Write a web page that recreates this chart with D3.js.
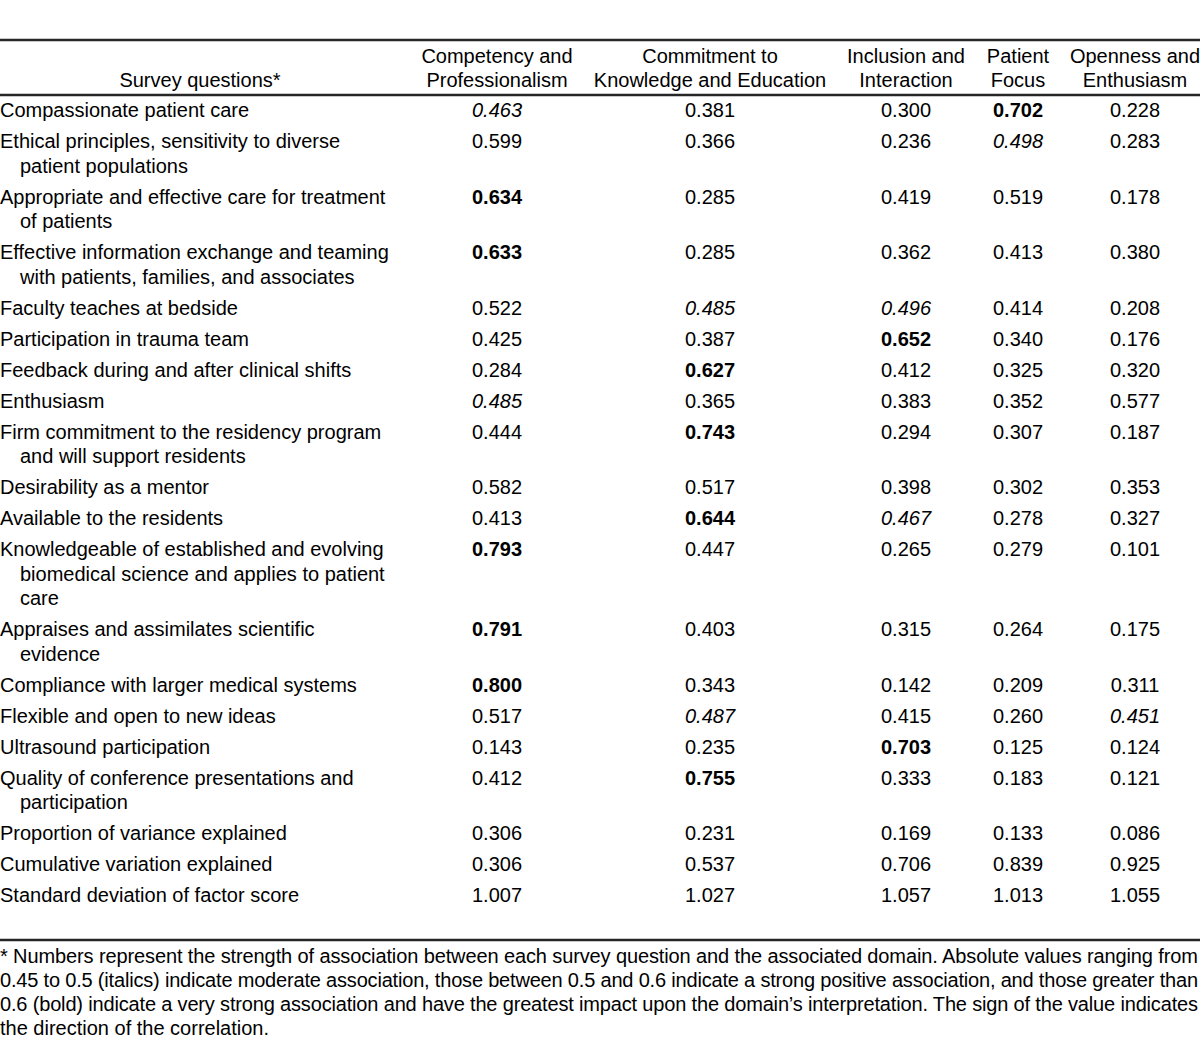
<!DOCTYPE html>
<html>
<head>
<meta charset="utf-8">
<script src="https://cdn.jsdelivr.net/npm/d3@7"></script>
<style>
  body { margin: 0; background: #fff; }
  svg { display: block; font-family: "Liberation Sans", Arial, sans-serif; }
</style>
</head>
<body>
<script>
// Factor loadings table data
var columns = ["Competency and\nProfessionalism", "Commitment to\nKnowledge and Education",
               "Inclusion and\nInteraction", "Patient\nFocus", "Openness and\nEnthusiasm"];

var questions = [
  "Compassionate patient care",
  "Ethical principles, sensitivity to diverse\npatient populations",
  "Appropriate and effective care for treatment\nof patients",
  "Effective information exchange and teaming\nwith patients, families, and associates",
  "Faculty teaches at bedside",
  "Participation in trauma team",
  "Feedback during and after clinical shifts",
  "Enthusiasm",
  "Firm commitment to the residency program\nand will support residents",
  "Desirability as a mentor",
  "Available to the residents",
  "Knowledgeable of established and evolving\nbiomedical science and applies to patient\ncare",
  "Appraises and assimilates scientific\nevidence",
  "Compliance with larger medical systems",
  "Flexible and open to new ideas",
  "Ultrasound participation",
  "Quality of conference presentations and\nparticipation"
];

var loadings = [
  [0.463, 0.381, 0.300, 0.702, 0.228],
  [0.599, 0.366, 0.236, 0.498, 0.283],
  [0.634, 0.285, 0.419, 0.519, 0.178],
  [0.633, 0.285, 0.362, 0.413, 0.380],
  [0.522, 0.485, 0.496, 0.414, 0.208],
  [0.425, 0.387, 0.652, 0.340, 0.176],
  [0.284, 0.627, 0.412, 0.325, 0.320],
  [0.485, 0.365, 0.383, 0.352, 0.577],
  [0.444, 0.743, 0.294, 0.307, 0.187],
  [0.582, 0.517, 0.398, 0.302, 0.353],
  [0.413, 0.644, 0.467, 0.278, 0.327],
  [0.793, 0.447, 0.265, 0.279, 0.101],
  [0.791, 0.403, 0.315, 0.264, 0.175],
  [0.800, 0.343, 0.142, 0.209, 0.311],
  [0.517, 0.487, 0.415, 0.260, 0.451],
  [0.143, 0.235, 0.703, 0.125, 0.124],
  [0.412, 0.755, 0.333, 0.183, 0.121]
];

var summaryLabels = ["Proportion of variance explained", "Cumulative variation explained",
                     "Standard deviation of factor score"];
var summaryValues = [
  [0.306, 0.231, 0.169, 0.133, 0.086],
  [0.306, 0.537, 0.706, 0.839, 0.925],
  [1.007, 1.027, 1.057, 1.013, 1.055]
];

var footnote = [
  "* Numbers represent the strength of association between each survey question and the associated domain. Absolute values ranging from",
  "0.45 to 0.5 (italics) indicate moderate association, those between 0.5 and 0.6 indicate a strong positive association, and those greater than",
  "0.6 (bold) indicate a very strong association and have the greatest impact upon the domain\u2019s interpretation. The sign of the value indicates",
  "the direction of the correlation."
];

/***Layout***/
var W = 1200, H = 1061;
var fontSize = 20, lineH = 24.5, rowPad = 6.5;
var baseOff = 7; // baseline offset from visual center

var svg = d3.select("body").append("svg")
            .attr("width", W).attr("height", H)
            .style("font-size", fontSize + "px");

var xCol = d3.scaleOrdinal().domain(d3.range(columns.length)).range([497, 710, 906, 1018, 1135]);

var rows = questions.map(function(q, i) {
  return {label: q, values: loadings[i], styled: true};
}).concat(summaryLabels.map(function(q, i) {
  return {label: q, values: summaryValues[i], styled: false};
}));

var ruleW = 2.5;
var topRule = 40, headRule = 95;
var y = headRule;
rows.forEach(function(r) {
  r.lines = r.label.split("\n");
  r.top = y;
  r.center = y + 15;
  y += rowPad + lineH * r.lines.length;
});
var tableBottom = y + 29;

function rule(yy) {
  svg.append("line")
     .attr("x1", 0).attr("x2", W)
     .attr("y1", yy).attr("y2", yy)
     .attr("stroke", "#262626")
     .attr("stroke-width", ruleW);
}
rule(topRule);
rule(headRule);
rule(tableBottom);

/***Header***/
var headLine1 = 56, headLine2 = 80;
svg.append("text")
   .attr("x", 200).attr("y", headLine2 + baseOff)
   .attr("text-anchor", "middle")
   .text("Survey questions*");

columns.forEach(function(c, j) {
  var t = svg.append("text")
             .attr("text-anchor", "middle")
             .attr("y", headLine1 + baseOff);
  c.split("\n").forEach(function(part, k) {
    t.append("tspan")
     .attr("x", xCol(j))
     .attr("y", (k === 0 ? headLine1 : headLine2) + baseOff)
     .text(part);
  });
});

/***Body rows***/
var rowG = svg.selectAll("g.row")
              .data(rows)
              .enter().append("g")
              .attr("class", "row");

rowG.each(function(r) {
  var g = d3.select(this);
  g.selectAll("text.label")
   .data(r.lines)
   .enter().append("text")
   .attr("class", "label")
   .attr("x", function(d, k) { return k === 0 ? 0 : 20; })
   .attr("y", function(d, k) { return r.center + k * lineH + baseOff; })
   .text(function(d) { return d; });

  g.selectAll("text.val")
   .data(r.values)
   .enter().append("text")
   .attr("class", "val")
   .attr("text-anchor", "middle")
   .attr("x", function(d, j) { return xCol(j); })
   .attr("y", r.center + baseOff)
   .style("font-weight", function(d) { return r.styled && Math.abs(d) > 0.6 ? "bold" : null; })
   .style("font-style", function(d) {
     return r.styled && Math.abs(d) >= 0.45 && Math.abs(d) < 0.5 ? "italic" : null;
   })
   .text(function(d) { return d3.format(".3f")(d); });
});

/***Footnote***/
var footTop = 956;
svg.selectAll("text.foot")
   .data(footnote)
   .enter().append("text")
   .attr("class", "foot")
   .attr("x", 0)
   .attr("y", function(d, i) { return footTop + i * 24 + baseOff; })
   .attr("textLength", function(d, i) { return i < footnote.length - 1 ? 1198 : null; })
   .attr("lengthAdjust", "spacing")
   .text(function(d) { return d; });
</script>
</body>
</html>
